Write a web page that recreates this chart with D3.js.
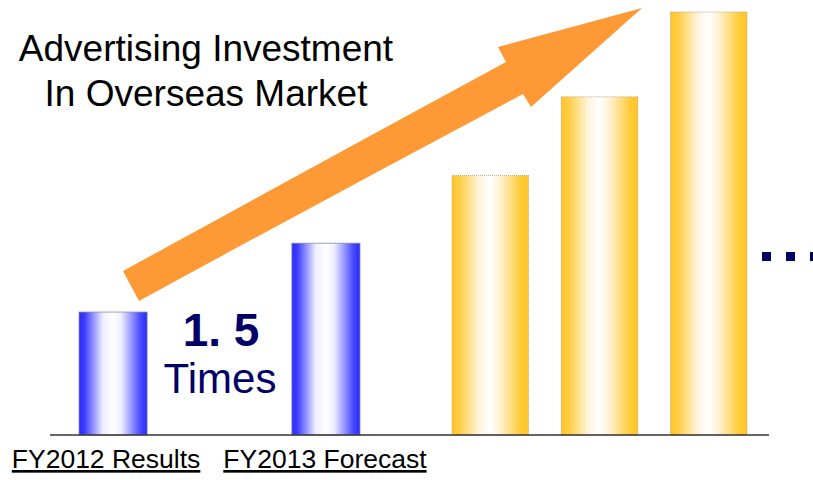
<!DOCTYPE html>
<html>
<head>
<meta charset="utf-8">
<script src="https://cdn.jsdelivr.net/npm/d3@7"></script>
<style>
  body { margin: 0; background: #fff; }
  svg { display: block; font-family: 'Liberation Sans', Arial, sans-serif; }
</style>
</head>
<body>
<div id="chart"></div>
<script>
// data (index, FY2012 results = 100)
let resultLabels = ['FY2012 Results', 'FY2013 Forecast']
let resultValues = [100, 156]
let futureLabels = ['F1', 'F2', 'F3']
let futureValues = [211, 275, 344]
let titleLines = ['Advertising Investment', 'In Overseas Market']
let growthText = ['1. 5', 'Times']

let width = 813
let height = 480
let baseY = 435

let svg = d3
  .select('#chart')
  .append('svg')
  .attr('width', width)
  .attr('height', height)

let defs = svg.append('defs')

function addGradient(id, stops) {
  let g = defs
    .append('linearGradient')
    .attr('id', id)
    .attr('x1', '0%')
    .attr('x2', '100%')
    .attr('y1', '0%')
    .attr('y2', '0%')
  g.selectAll('stop')
    .data(stops)
    .enter()
    .append('stop')
    .attr('offset', d => d[0])
    .attr('stop-color', d => d[1])
}

addGradient('blueGrad', [
  [0, '#2a2aff'], [0.08, '#3c3cff'], [0.35, '#eeeeff'], [0.5, '#ffffff'],
  [0.62, '#eeeeff'], [0.9, '#4a4aff'], [1, '#2a2aff']
])
addGradient('goldGrad', [
  [0, '#ffc626'], [0.1, '#ffcd45'], [0.36, '#fff5e0'], [0.5, '#ffffff'],
  [0.62, '#fff3d6'], [0.9, '#ffcb38'], [1, '#ffc626']
])

// scales
let yScale = d3.scaleLinear().domain([0, 344]).range([baseY, 12])

let xResult = d3
  .scaleBand()
  .domain(resultLabels)
  .range([79, 360])
  .paddingInner(0.68)
  .paddingOuter(0)

let xFuture = d3
  .scaleBand()
  .domain(futureLabels)
  .range([452, 747])
  .paddingInner(0.3)
  .paddingOuter(0)

// arrow (annotation)
let arrow = d3.path()
arrow.moveTo(123, 271)
arrow.quadraticCurveTo(318, 164, 506, 62)
arrow.lineTo(498, 47)
arrow.lineTo(642, 8)
arrow.lineTo(531, 107)
arrow.lineTo(523, 94)
arrow.quadraticCurveTo(333, 195, 139, 301)
arrow.closePath()

svg
  .append('path')
  .attr('class', 'arrow')
  .attr('d', arrow.toString())
  .attr('fill', '#fd9a36')

// bars
svg
  .selectAll('.result-bar')
  .data(resultValues)
  .enter()
  .append('rect')
  .attr('class', 'result-bar')
  .attr('x', (d, i) => xResult(resultLabels[i]))
  .attr('width', xResult.bandwidth())
  .attr('y', d => yScale(d))
  .attr('height', d => baseY - yScale(d))
  .attr('fill', 'url(#blueGrad)')
  .attr('stroke', '#8a8aa8')
  .attr('stroke-width', 0.8)

svg
  .selectAll('.future-bar')
  .data(futureValues)
  .enter()
  .append('rect')
  .attr('class', 'future-bar')
  .attr('x', (d, i) => xFuture(futureLabels[i]))
  .attr('width', xFuture.bandwidth())
  .attr('y', d => yScale(d))
  .attr('height', d => baseY - yScale(d))
  .attr('fill', 'url(#goldGrad)')
  .attr('stroke', '#a89a78')
  .attr('stroke-width', 0.8)
  .attr('stroke-dasharray', '1,1')

// baseline
svg
  .append('line')
  .attr('x1', 50)
  .attr('x2', 769)
  .attr('y1', baseY)
  .attr('y2', baseY)
  .attr('stroke', '#333')
  .attr('stroke-width', 1.5)

// category labels
let xAxis = d3.axisBottom(xResult).tickSize(0).tickPadding(0)

let axisG = svg
  .append('g')
  .attr('class', 'x-axis')
  .attr('transform', `translate(0,${baseY})`)
  .call(xAxis)

axisG.select('.domain').remove()
axisG
  .selectAll('text')
  .attr('y', 33)
  .attr('dy', 0)
  .attr('dx', (d, i) => (i === 0 ? -7 : -1))
  .attr('fill', '#000')
  .attr('font-size', 26.5)
  .attr('font-family', "'Liberation Sans', Arial, sans-serif")
  .style('text-decoration', 'underline')

// title
svg
  .selectAll('.title')
  .data(titleLines)
  .enter()
  .append('text')
  .attr('class', 'title')
  .attr('x', 206)
  .attr('y', (d, i) => 61 + i * 45)
  .attr('text-anchor', 'middle')
  .attr('font-size', 37)
  .attr('fill', '#000')
  .text(d => d)

// 1.5 times
svg
  .append('text')
  .attr('x', 221)
  .attr('y', 346)
  .attr('text-anchor', 'middle')
  .attr('font-size', 46)
  .attr('font-weight', 'bold')
  .attr('fill', '#000066')
  .text(growthText[0])

svg
  .append('text')
  .attr('x', 220)
  .attr('y', 393)
  .attr('text-anchor', 'middle')
  .attr('font-size', 42)
  .attr('fill', '#000066')
  .text(growthText[1])

// continuation dots
svg
  .selectAll('.dot')
  .data([0, 1, 2])
  .enter()
  .append('rect')
  .attr('class', 'dot')
  .attr('x', d => 762 + d * 24)
  .attr('y', 252)
  .attr('width', 9)
  .attr('height', 9)
  .attr('fill', '#000066')
</script>
</body>
</html>
